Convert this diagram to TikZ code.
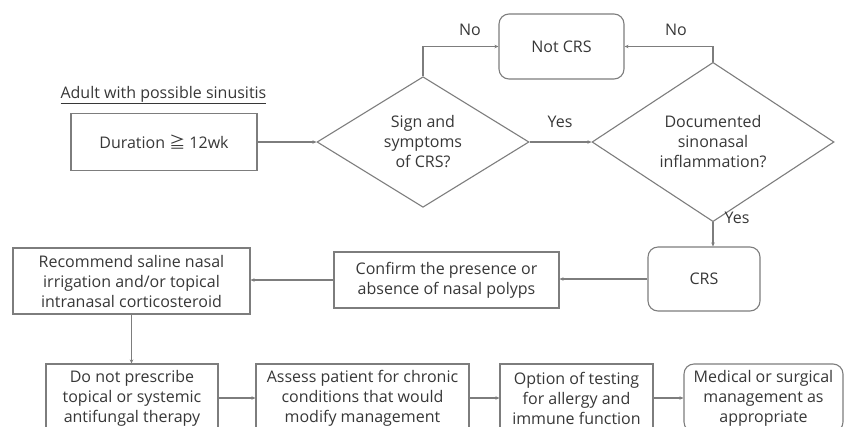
\documentclass[tikz,border=0pt]{standalone}
\usepackage{fontspec}
\setmainfont{Open Sans}
\newfontfamily\cjkfont{Noto Sans CJK KR}
\usetikzlibrary{shapes.geometric,arrows.meta}
\definecolor{linegray}{RGB}{125,125,125}
\definecolor{txtgray}{RGB}{55,55,55}
\begin{document}
\begin{tikzpicture}[x=1pt,y=-1pt,
  every node/.style={font=\fontsize{16}{20}\selectfont, text=txtgray},
  box/.style={draw=linegray, line width=1.1pt, align=center, inner sep=0pt},
  rbox/.style={box, rounded corners=10pt},
  dia/.style={draw=linegray, line width=1.1pt, diamond, align=center, inner sep=0pt},
  conn/.style={draw=linegray, line width=1.1pt, -{Stealth[length=4pt,width=3.5pt]}}
]
\useasboundingbox (0,0) rectangle (845,426);
\clip (0,0) rectangle (845,426);

\node[anchor=base west] (title) at (57,98) {\underline{Adult with possible sinusitis}};
\node[box, minimum width=186pt, minimum height=57pt] (dur) at (164,142) {Duration {\cjkfont ≧} 12wk};
\node[dia, minimum width=212pt, minimum height=100pt] (d1) at (423,142) {Sign and\\symptoms\\of CRS?};
\node[dia, minimum width=242pt, minimum height=95pt] (d2) at (713,142) {Documented\\sinonasal\\inflammation?};
\node[rbox, minimum width=125pt, minimum height=65pt] (not) at (561.5,46.5) {Not CRS};
\node[rbox, minimum width=112pt, minimum height=64pt] (crs) at (704,279) {CRS};
\node[box, minimum width=225pt, minimum height=56pt] (conf) at (446.5,280) {Confirm the presence or\\absence of nasal polyps};
\node[box, minimum width=237pt, minimum height=66pt] (rec) at (131.5,281) {Recommend saline nasal\\irrigation and/or topical\\intranasal corticosteroid};
\node[box, minimum width=172pt, minimum height=68pt] (dnp) at (132,398) {Do not prescribe\\topical or systemic\\antifungal therapy};
\node[box, minimum width=213pt, minimum height=68pt] (ass) at (362.5,398) {Assess patient for chronic\\conditions that would\\modify management};
\node[box, minimum width=153pt, minimum height=68pt] (opt) at (576.5,398) {Option of testing\\for allergy and\\immune function};
\node[rbox, minimum width=159pt, minimum height=68pt] (med) at (763.5,398) {Medical or surgical\\management as\\appropriate};

\draw[conn] (dur.east) -- (dur.east -| d1.west);
\draw[conn] (d1.north) |- (not.west);
\draw[conn] (d2.north) |- (not.east);
\draw[conn] (d1.east) -- (d2.west);
\draw[conn] (d2.south) -- (d2.south |- crs.north);
\draw[conn] (crs.west) -- (crs.west -| conf.east);
\draw[conn] (conf.west) -- (conf.west -| rec.east);
\draw[conn] (rec.south) -- (rec.south |- dnp.north);
\draw[conn] (dnp.east) -- (ass.west);
\draw[conn] (ass.east) -- (opt.west);
\draw[conn] (opt.east) -- (med.west);

\node (no1) at (470,30) {No};
\node (no2) at (676,30) {No};
\node (yes1) at (560,122) {Yes};
\node (yes2) at (737,218) {Yes};
\end{tikzpicture}
\end{document}
